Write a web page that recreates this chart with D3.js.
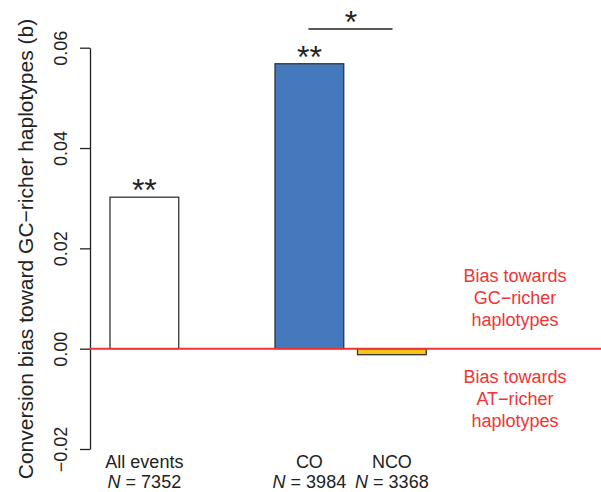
<!DOCTYPE html>
<html>
<head>
<meta charset="utf-8">
<script src="https://cdn.jsdelivr.net/npm/d3@7"></script>
<style>
  body { margin: 0; background: #fff; }
  text { font-family: "Liberation Sans", Arial, sans-serif; }
</style>
</head>
<body>
<svg class="chart"></svg>
<script>
// data
const categories = ["All events", "", "CO", "NCO"]
const values = [0.0302, null, 0.0568, -0.0012]
const nLabels = ["7352", "", "3984", "3368"]
const stars = ["**", "", "**", ""]
const barColors = ["#ffffff", null, "#4479be", "#f5c71a"]
const yTicks = [-0.02, 0.00, 0.02, 0.04, 0.06]

const width = 601, height = 492

const svg = d3.select(".chart")
  .attr("width", width)
  .attr("height", height)

// scales
const xScale = d3.scaleBand()
  .domain(categories.map((d, i) => i))
  .range([110, 426.25])
  .paddingInner(0.1667)
  .paddingOuter(0)
const yScale = d3.scaleLinear()
  .domain([-0.02, 0.06])
  .range([449, 47.7])

// y axis, R style with rotated labels
const fmt = d3.format(".2f")
const yAxis = svg.append("g")
  .attr("transform", "translate(90,0)")
  .call(d3.axisLeft(yScale).tickValues(yTicks).tickFormat(fmt).tickSize(10).tickSizeOuter(0))
yAxis.select(".domain").attr("stroke", "#222").attr("stroke-width", 1.3)
yAxis.selectAll(".tick line").attr("stroke", "#222").attr("stroke-width", 1.3)
yAxis.selectAll(".tick text")
  .attr("x", null).attr("dy", null)
  .attr("transform", "translate(-23,0) rotate(-90)")
  .attr("text-anchor", "middle")
  .style("font-size", "18px")
  .attr("fill", "#222")
  .text(d => d < 0 ? "\u2212" + fmt(-d) : fmt(d))

// axis title
svg.append("text")
  .attr("transform", "translate(33,249) rotate(-90)")
  .attr("text-anchor", "middle")
  .style("font-size", "21px")
  .attr("fill", "#222")
  .text("Conversion bias toward GC\u2212richer haplotypes (b)")

// bars
const barData = categories.map((c, i) => ({ i, c, v: values[i] })).filter(d => d.v !== null)
svg.selectAll(".bar")
  .data(barData)
  .join("rect")
  .attr("class", "bar")
  .attr("x", d => xScale(d.i))
  .attr("width", xScale.bandwidth())
  .attr("y", d => yScale(Math.max(0, d.v)))
  .attr("height", d => Math.abs(yScale(d.v) - yScale(0)))
  .attr("fill", d => barColors[d.i])
  .attr("stroke", "#333")
  .attr("stroke-width", 1.3)

// zero line
svg.append("line")
  .attr("x1", 90).attr("x2", width)
  .attr("y1", yScale(0)).attr("y2", yScale(0))
  .attr("stroke", "#ee3535")
  .attr("stroke-width", 2)

// stars above bars
svg.selectAll(".star")
  .data(barData.filter(d => stars[d.i]))
  .join("text")
  .attr("class", "star")
  .attr("x", d => xScale(d.i) + xScale.bandwidth() / 2)
  .attr("y", d => yScale(d.v) + 4)
  .attr("text-anchor", "middle")
  .style("font-size", "32px")
  .attr("fill", "#222")
  .text(d => stars[d.i])

// CO vs NCO bracket
const coX = xScale(2) + xScale.bandwidth() / 2
const ncoX = xScale(3)
svg.append("line")
  .attr("x1", coX - 1).attr("x2", ncoX + 35)
  .attr("y1", 29).attr("y2", 29)
  .attr("stroke", "#222").attr("stroke-width", 1.6)
svg.append("text")
  .attr("x", (coX + ncoX + 35) / 2)
  .attr("y", 33)
  .attr("text-anchor", "middle")
  .style("font-size", "32px")
  .attr("fill", "#222")
  .text("*")

// category labels
const labelData = categories.map((c, i) => ({ i, c })).filter(d => d.c)
const lab = svg.selectAll(".xlab")
  .data(labelData)
  .join("g")
  .attr("class", "xlab")
  .attr("transform", d => `translate(${xScale(d.i) + xScale.bandwidth() / 2},0)`)
lab.append("text")
  .attr("y", 467.5)
  .attr("text-anchor", "middle")
  .style("font-size", "18px")
  .attr("fill", "#222")
  .text(d => d.c)
const nText = lab.append("text")
  .attr("y", 488)
  .attr("text-anchor", "middle")
  .style("font-size", "18px")
  .attr("fill", "#222")
nText.append("tspan").style("font-style", "italic").text("N")
nText.append("tspan").text(d => " = " + nLabels[d.i])

// red annotations
const upper = ["Bias towards", "GC\u2212richer", "haplotypes"]
const lower = ["Bias towards", "AT\u2212richer", "haplotypes"]
svg.selectAll(".up")
  .data(upper)
  .join("text")
  .attr("x", 515)
  .attr("y", (d, i) => 282 + i * 22)
  .attr("text-anchor", "middle")
  .style("font-size", "18px")
  .attr("fill", "#ee3535")
  .text(d => d)
svg.selectAll(".lo")
  .data(lower)
  .join("text")
  .attr("x", 515)
  .attr("y", (d, i) => 383 + i * 22)
  .attr("text-anchor", "middle")
  .style("font-size", "18px")
  .attr("fill", "#ee3535")
  .text(d => d)
</script>
</body>
</html>
